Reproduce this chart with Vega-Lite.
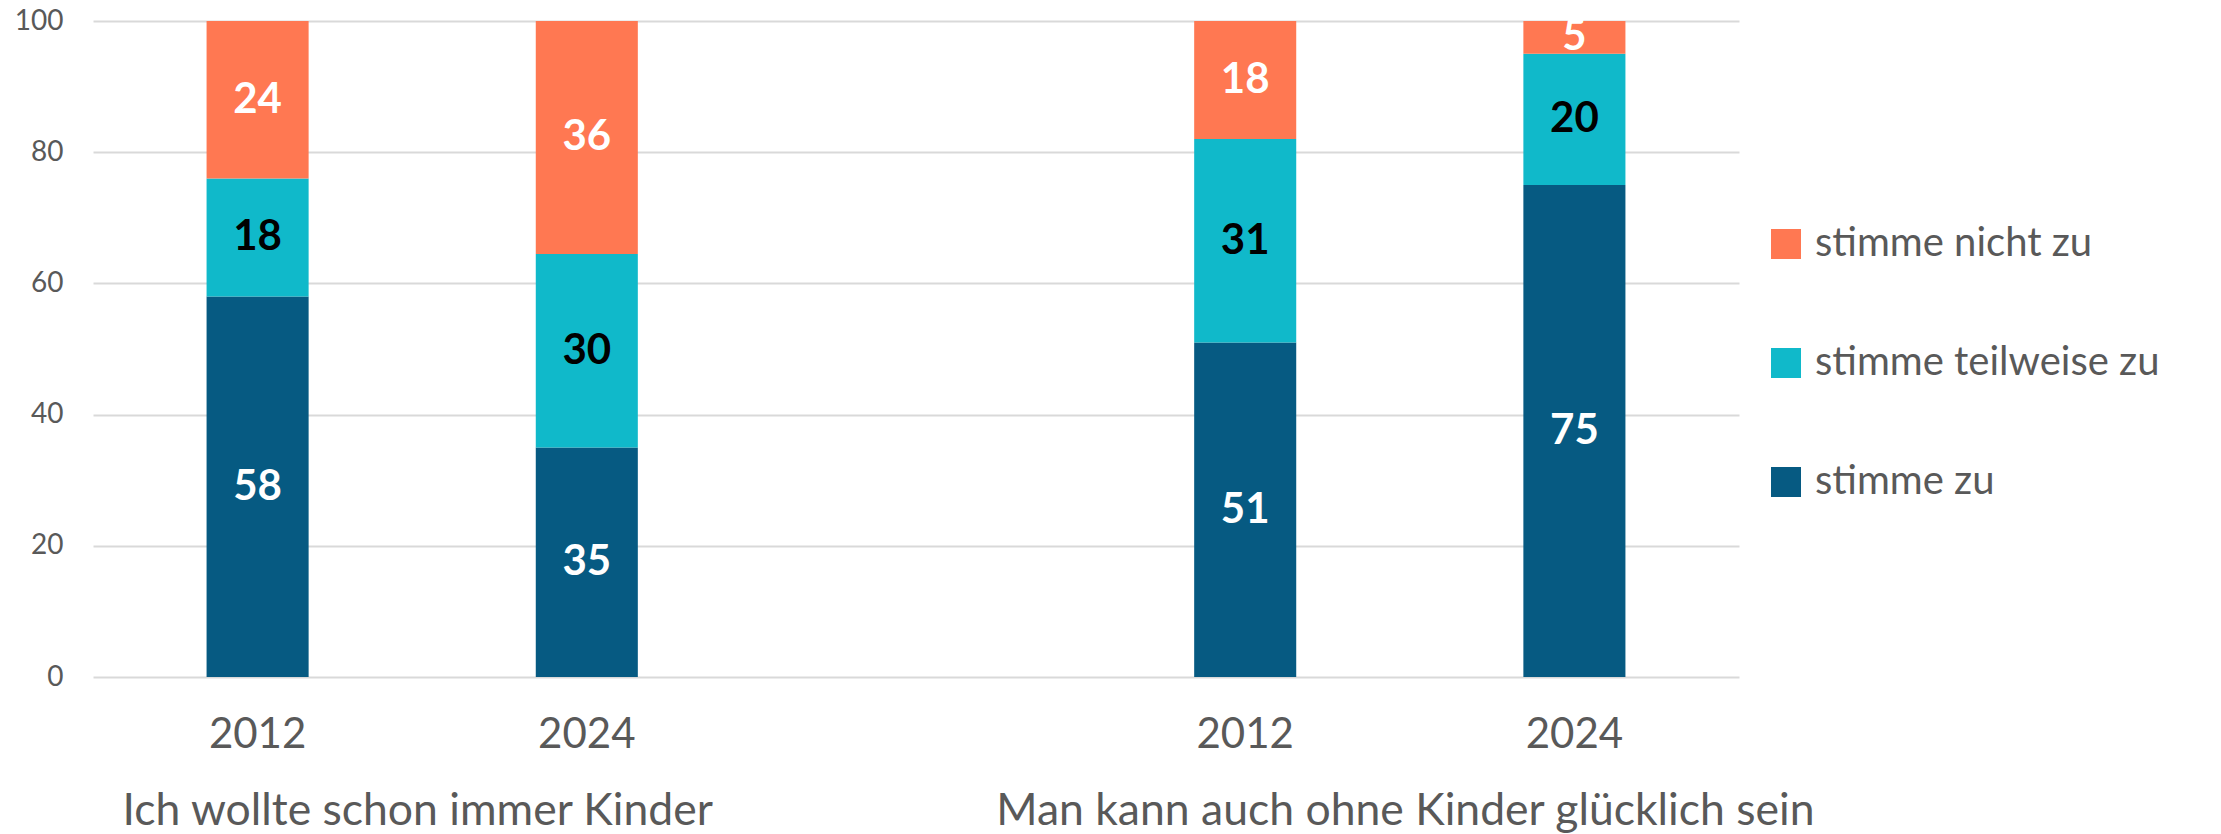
{
  "$schema": "https://vega.github.io/schema/vega-lite/v6.json",
  "autosize": "none",
  "width": 1646,
  "height": 656,
  "padding": {"left": 93, "top": 21, "right": 482, "bottom": 157},
  "background": "white",
  "config": {
    "view": {"stroke": null},
    "font": "Lato",
    "legend": {
      "orient": "none",
      "legendX": 1673,
      "legendY": 203,
      "title": null,
      "symbolType": "square",
      "symbolSize": 900,
      "symbolStrokeWidth": 0,
      "symbolOpacity": 1,
      "labelFontSize": 40,
      "labelColor": "#595959",
      "labelOffset": 9,
      "rowPadding": 79,
      "labelLimit": 600
    }
  },
  "datasets": {
    "bars": [
      {"slot": "A 2012", "answer": "stimme zu", "value": 58},
      {"slot": "A 2012", "answer": "stimme teilweise zu", "value": 18},
      {"slot": "A 2012", "answer": "stimme nicht zu", "value": 24},
      {"slot": "A 2024", "answer": "stimme zu", "value": 35},
      {"slot": "A 2024", "answer": "stimme teilweise zu", "value": 29.5},
      {"slot": "A 2024", "answer": "stimme nicht zu", "value": 35.5},
      {"slot": "B 2012", "answer": "stimme zu", "value": 51},
      {"slot": "B 2012", "answer": "stimme teilweise zu", "value": 31},
      {"slot": "B 2012", "answer": "stimme nicht zu", "value": 18},
      {"slot": "B 2024", "answer": "stimme zu", "value": 75},
      {"slot": "B 2024", "answer": "stimme teilweise zu", "value": 20},
      {"slot": "B 2024", "answer": "stimme nicht zu", "value": 5}
    ],
    "groups": [
      {"slot": "A 2024", "label": "Ich wollte schon immer Kinder"},
      {"slot": "B 2024", "label": "Man kann auch ohne Kinder glücklich sein"}
    ]
  },
  "layer": [
    {
      "data": {"name": "bars"},
      "encoding": {
        "x": {
          "field": "slot",
          "type": "nominal",
          "title": null,
          "scale": {"domain": ["A 2012", "A 2024", "-", "B 2012", "B 2024"], "paddingInner": 0.69, "paddingOuter": 0.345},
          "axis": {
            "labelExpr": "datum.value == '-' ? '' : substring(datum.value, 2)",
            "labelAngle": 0,
            "labelFontSize": 42,
            "labelColor": "#595959",
            "labelPadding": 37,
            "ticks": false,
            "domain": false,
            "grid": false
          }
        },
        "y": {
          "field": "value",
          "type": "quantitative",
          "stack": "zero",
          "title": null,
          "scale": {"domain": [0, 100]},
          "axis": {
            "values": [0, 20, 40, 60, 80, 100],
            "grid": true,
            "gridColor": "#d9d9d9",
            "gridWidth": 2,
            "domain": false,
            "ticks": false,
            "labelFontSize": 28,
            "labelColor": "#595959",
            "labelPadding": 30
          }
        },
        "order": {"field": "answer", "sort": "descending"}
      },
      "layer": [
        {
          "mark": {"type": "bar"},
          "encoding": {
            "color": {
              "field": "answer",
              "type": "nominal",
              "scale": {"domain": ["stimme nicht zu", "stimme teilweise zu", "stimme zu"], "range": ["#FF7852", "#10B9CA", "#065A82"]}
            }
          }
        },
        {
          "mark": {"type": "text", "fontSize": 42, "fontWeight": "bold", "baseline": "middle", "align": "center"},
          "encoding": {
            "y": {"field": "value", "type": "quantitative", "stack": "zero", "bandPosition": 0.5},
            "detail": {"field": "answer"},
            "text": {"field": "value", "type": "quantitative", "format": ".0f"},
            "color": {"condition": {"test": "datum.answer === 'stimme teilweise zu'", "value": "#000000"}, "value": "#ffffff"}
          }
        }
      ]
    },
    {
      "data": {"name": "groups"},
      "mark": {"type": "text", "fontSize": 44.5, "color": "#595959", "baseline": "middle", "align": "center", "dx": -118, "dy": 135},
      "encoding": {
        "x": {"field": "slot", "type": "nominal", "bandPosition": 0},
        "y": {"datum": 0},
        "text": {"field": "label"}
      }
    }
  ]
}
